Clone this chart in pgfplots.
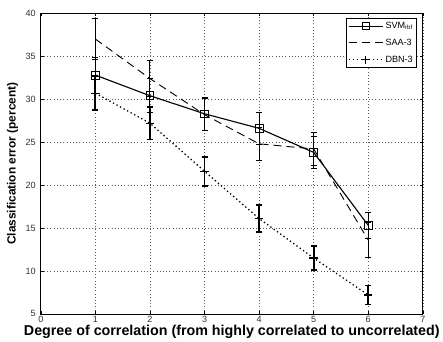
\documentclass[border=0pt]{standalone}
\usepackage{pgfplots}
\pgfplotsset{compat=1.18}
\usepackage{fontspec}
\setmainfont{Liberation Sans}
\begin{document}
\begin{tikzpicture}
\begin{axis}[
  scale only axis,
  width=380pt, height=299pt,
  xmin=0, xmax=7, ymin=5, ymax=40,
  xtick={0,1,...,7}, ytick={5,10,...,40},
  grid=major,
  grid style={dash pattern=on 1pt off 2.2pt, black!65, line width=0.6pt},
  axis line style={line width=0.7pt},
  tick align=inside,
  tick style={black, line width=0.4pt},
  major tick length=3pt,
  every tick label/.append style={font=\fontsize{9}{10}\selectfont, text=black!80},
  xticklabel style={yshift=1pt},
  yticklabel style={xshift=-1.5pt},
  /pgf/number format/assume math mode=true,
  title={\rule{0pt}{1pt}},
  title style={inner sep=0pt, yshift=6pt},
  xlabel={\bfseries Degree of correlation (from highly correlated to uncorrelated)},
  ylabel={\bfseries Classification error (percent)},
  xlabel style={font=\fontsize{14.2}{16}\selectfont, yshift=5pt},
  ylabel style={font=\fontsize{11.8}{13}\selectfont, inner ysep=7pt, yshift=-3pt},
  legend style={at={(0.985,0.985)}, anchor=north east, font=\fontsize{9}{10}\selectfont,
    draw=black, line width=0.7pt, inner sep=2pt, row sep=5pt, fill=white},
  legend cell align=left,
  legend image code/.code={\draw[#1] (0pt,0pt) -- (34pt,0pt); \draw[#1, mark repeat=2, mark phase=2] plot coordinates {(0pt,0pt) (17pt,0pt) (34pt,0pt)};},
]
% SVM rbf
\addplot[black, line width=1.1pt, mark=square, mark size=3.8pt, mark options={solid, line width=0.8pt},
  error bars/.cd, y dir=both, y explicit, error bar style={line width=1.0pt, solid}, error mark options={rotate=90, mark size=3pt, line width=1.0pt}]
  coordinates {
  (1,32.8) +- (0,2.1)
  (2,30.4) +- (0,2.0)
  (3,28.3) +- (0,1.95)
  (4,26.6) +- (0,1.85)
  (5,23.8) +- (0,1.9)
  (6,15.3) +- (0,1.5)
  };
\addlegendentry{SVM$_{\mathrm{rbf}}$}
% SAA-3
\addplot[black, line width=0.9pt, dash pattern=on 8pt off 5pt, mark=none,
  error bars/.cd, y dir=both, y explicit, error bar style={line width=0.9pt, solid}, error mark options={rotate=90, mark size=3pt, line width=0.9pt}]
  coordinates {
  (1,37.0) +- (0,2.4)
  (2,32.4) +- (0,2.1)
  (3,28.2) +- (0,1.9)
  (4,24.8) +- (0,1.9)
  (5,24.2) +- (0,1.9)
  (6,13.6) +- (0,2.0)
  };
\addlegendentry{SAA-3}
% DBN-3
\addplot[black, line width=1.3pt, dash pattern=on 1.3pt off 2.7pt, mark=+, mark size=4.2pt, mark options={solid, line width=1.2pt},
  error bars/.cd, y dir=both, y explicit, error bar style={line width=1.8pt, solid}, error mark options={rotate=90, mark size=3pt, line width=1.8pt}]
  coordinates {
  (1,30.7) +- (0,2.0)
  (2,27.2) +- (0,1.9)
  (3,21.6) +- (0,1.7)
  (4,16.1) +- (0,1.6)
  (5,11.5) +- (0,1.4)
  (6,7.2) +- (0,1.1)
  };
\addlegendentry{DBN-3}
\end{axis}
\end{tikzpicture}
\end{document}
